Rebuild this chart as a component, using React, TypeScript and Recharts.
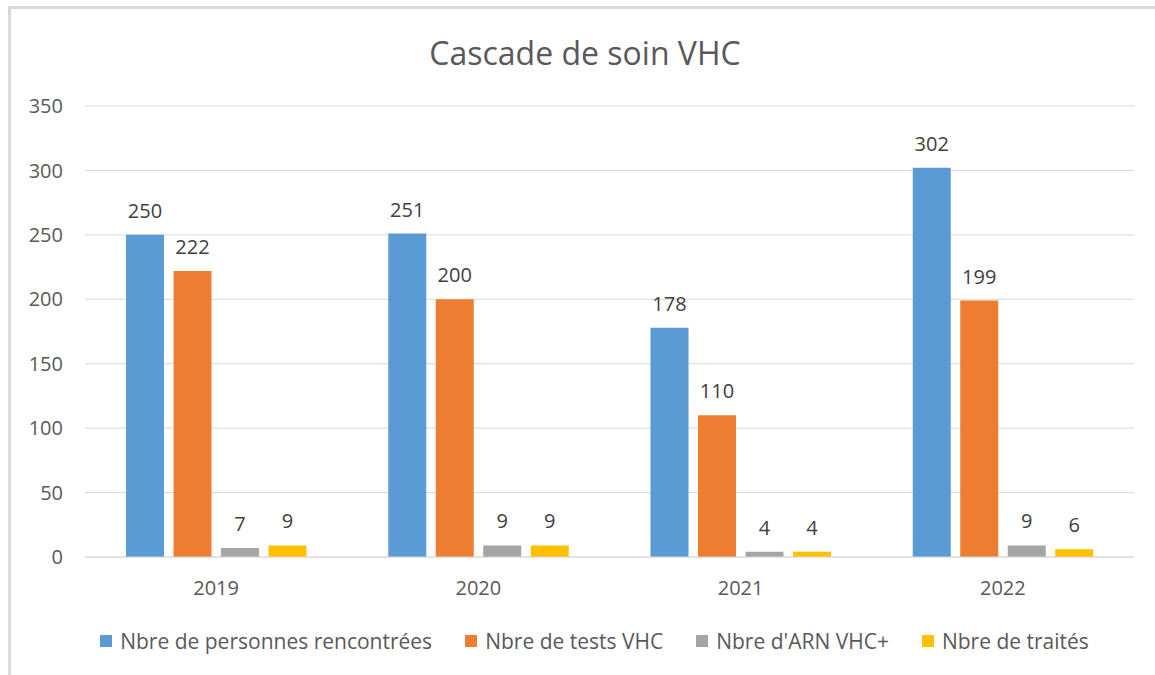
import React from 'react';
import { BarChart, Bar, XAxis, YAxis, CartesianGrid, LabelList } from 'recharts';

const years = ['2019', '2020', '2021', '2022'];
const personnes = [250, 251, 178, 302];
const tests = [222, 200, 110, 199];
const arn = [7, 9, 4, 9];
const traites = [9, 9, 4, 6];
const seriesKeys = ['personnes', 'tests', 'arn', 'traites'];
const seriesNames = [
  'Nbre de personnes rencontrées',
  'Nbre de tests VHC',
  "Nbre d'ARN VHC+",
  'Nbre de traités',
];
const seriesColors = ['#5B9BD5', '#ED7D31', '#A5A5A5', '#FFC000'];
const yTicks = [0, 50, 100, 150, 200, 250, 300, 350];
const title = 'Cascade de soin VHC';

const data = years.map((y, i) => ({
  year: y,
  personnes: personnes[i],
  tests: tests[i],
  arn: arn[i],
  traites: traites[i],
}));

const FONT = '"Open Sans", sans-serif';

export default function App() {
  return (
    <div style={{ position: 'absolute', left: 0, top: 0, width: 1155, height: 675, background: '#fff', fontFamily: FONT }}>
      <div style={{ position: 'absolute', left: 8, top: 6, width: 3, height: 669, background: '#d9d9d9' }} />
      <div style={{ position: 'absolute', left: 8, top: 6, width: 1147, height: 3, background: '#d9d9d9' }} />
      <div
        style={{
          position: 'absolute',
          left: 0,
          width: 1170,
          top: 37,
          textAlign: 'center',
          fontSize: 32,
          lineHeight: '32px',
          color: '#595959',
          fontFamily: FONT,
        }}
      >
        {title}
      </div>
      <div style={{ position: 'absolute', left: 0, top: 0 }}>
        <BarChart
          width={1155}
          height={675}
          data={data}
          margin={{ top: 106, right: 21, left: 25, bottom: 78 }}
          barSize={38}
          barGap={9.5}
        >
          <CartesianGrid vertical={false} stroke="#d9d9d9" strokeWidth={1} />
          <XAxis
            dataKey="year"
            height={40}
            axisLine={{ stroke: '#d9d9d9', strokeWidth: 1 }}
            tickLine={false}
            tickSize={0}
            tickMargin={24}
            tick={{ fill: '#595959', fontSize: 20, fontFamily: FONT }}
          />
          <YAxis
            width={60}
            domain={[0, 350]}
            ticks={yTicks}
            interval={0}
            axisLine={false}
            tickLine={false}
            tickSize={0}
            tickMargin={22}
            tick={{ fill: '#595959', fontSize: 20, fontFamily: FONT }}
          />
          {seriesKeys.map((k, i) => (
            <Bar key={k} dataKey={k} name={seriesNames[i]} fill={seriesColors[i]} isAnimationActive={false}>
              <LabelList
                dataKey={k}
                position="top"
                offset={17}
                fill="#404040"
                fontSize={20}
                fontFamily={FONT}
              />
            </Bar>
          ))}
        </BarChart>
      </div>
      <div
        style={{
          position: 'absolute',
          left: 0,
          width: 1189,
          top: 629,
          display: 'flex',
          justifyContent: 'center',
          alignItems: 'center',
          gap: 33,
          fontSize: 21,
          lineHeight: '24px',
          color: '#595959',
          fontFamily: FONT,
        }}
      >
        {seriesNames.map((n, i) => (
          <div key={n} style={{ display: 'flex', alignItems: 'center' }}>
            <div style={{ width: 12, height: 12, background: seriesColors[i], marginRight: 8 }} />
            <span style={{ whiteSpace: 'nowrap' }}>{n}</span>
          </div>
        ))}
      </div>
    </div>
  );
}
